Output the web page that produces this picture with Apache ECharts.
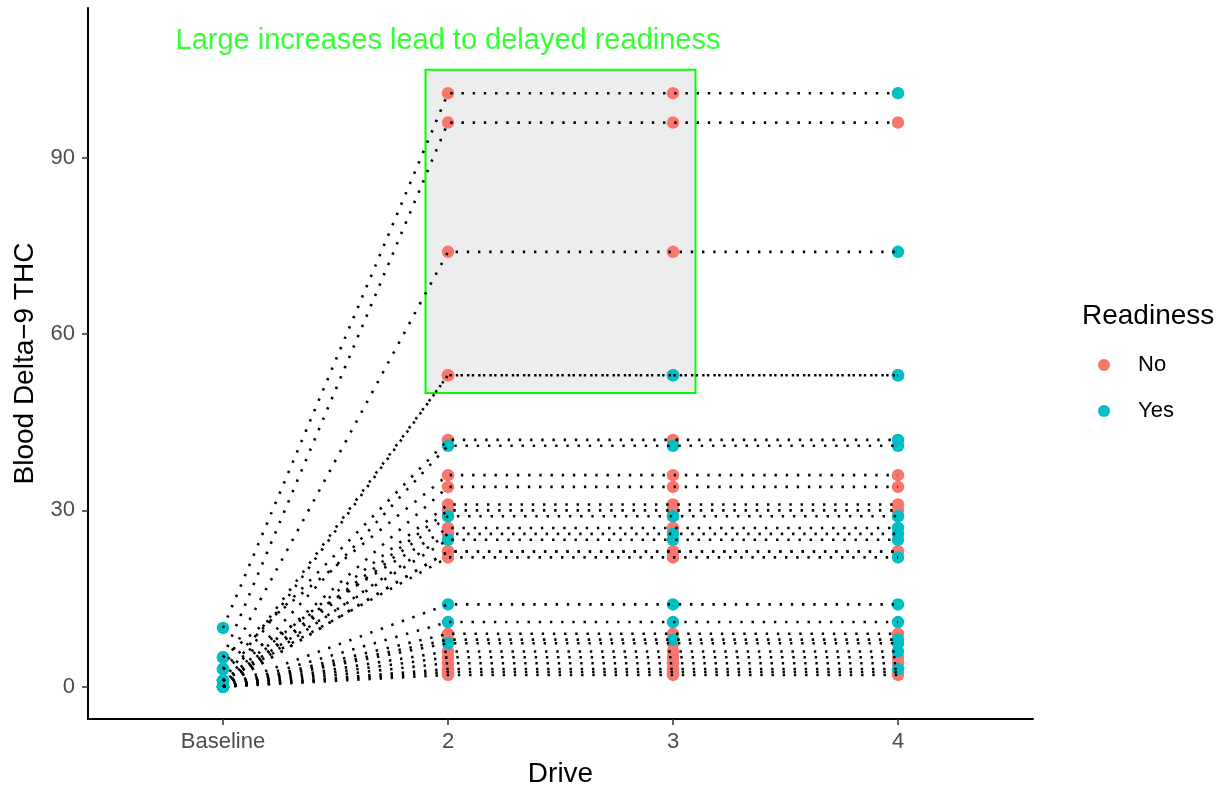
<!DOCTYPE html>
<html>
<head>
<meta charset="utf-8">
<script src="https://cdn.jsdelivr.net/npm/echarts@6/dist/echarts.min.js"></script>
<style>
html,body{margin:0;padding:0;background:#fff;}
#chart{width:1225px;height:793px;}
</style>
</head>
<body>
<div id="chart"></div>
<script>
// ---- data ----
const categories = ['Baseline', '2', '3', '4'];
// one entry per subject
const baselineValue = [10, 5, 3, 1, 0, 3, 0, 5, 0, 1, 0, 0, 3, 0, 1, 0, 0, 1, 0, 0, 0, 0, 0, 0, 0, 0, 0, 0, 0];
const driveValue    = [101, 96, 74, 53, 53, 42, 41, 36, 34, 31, 30, 29, 27, 26, 25, 23, 23, 22, 14, 11, 9, 8, 7.4, 6, 5, 4, 3, 2.5, 2];
const readyBaseline = ['Yes','Yes','Yes','Yes','Yes','Yes','Yes','Yes','Yes','Yes','Yes','Yes','Yes','Yes','Yes','Yes','Yes','Yes','Yes','Yes','Yes','Yes','Yes','Yes','Yes','Yes','Yes','Yes','Yes'];
const readyDrive2   = ['No','No','No','No','No','No','Yes','No','No','No','No','Yes','No','No','Yes','No','No','No','Yes','Yes','No','No','Yes','No','No','No','No','No','No'];
const readyDrive3   = ['No','No','No','Yes','No','No','Yes','No','No','No','No','Yes','No','Yes','Yes','No','No','No','Yes','Yes','No','Yes','No','No','No','No','No','No','No'];
const readyDrive4   = ['Yes','No','Yes','Yes','Yes','Yes','Yes','No','No','No','No','Yes','Yes','Yes','Yes','No','No','Yes','Yes','Yes','No','Yes','Yes','Yes','No','No','Yes','No','No'];
const yTicks = [0, 30, 60, 90];
const readinessLevels = ['No', 'Yes'];
const readinessColors = ['#F8766D', '#00BFC4'];
// annotation
const noteText = 'Large increases lead to delayed readiness';
const notePos = [2, 110];
const boxX = [1.9, 3.1];
const boxY = [50, 105];

// ---- build ----
const font = 'Liberation Sans, Arial, Helvetica, sans-serif';
const xPos = categories.map((c, i) => i + 1);
const readyByDrive = [readyBaseline, readyDrive2, readyDrive3, readyDrive4];

const lineSeries = baselineValue.map((b, i) => ({
  type: 'line',
  data: [[xPos[0], b], [xPos[1], driveValue[i]], [xPos[2], driveValue[i]], [xPos[3], driveValue[i]]],
  symbol: 'none',
  silent: true,
  z: 3,
  lineStyle: { color: '#000', width: 2.6, type: [2.4, 8.8], cap: 'butt' }
}));

const pointsFor = (level) => {
  const out = [];
  baselineValue.forEach((b, i) => {
    const vals = [b, driveValue[i], driveValue[i], driveValue[i]];
    for (let d = 0; d < 4; d++) {
      if (readyByDrive[d][i] === level) out.push([xPos[d], vals[d]]);
    }
  });
  return out;
};

const scatterSeries = readinessLevels.map((lvl, k) => {
  const s = {
    type: 'scatter',
    name: lvl,
    data: pointsFor(lvl),
    symbol: 'circle',
    symbolSize: 12.5,
    z: 2,
    itemStyle: { color: readinessColors[k], opacity: 1 }
  };
  if (k === 0) {
    s.markArea = {
      silent: true,
      z: 1,
      itemStyle: { color: '#EDEDED', borderColor: '#00FF00', borderWidth: 2 },
      data: [[{ coord: [boxX[0], boxY[0]] }, { coord: [boxX[1], boxY[1]] }]]
    };
  }
  return s;
});

const noteSeries = {
  type: 'scatter',
  name: 'note',
  data: [notePos],
  symbolSize: 0,
  silent: true,
  z: 4,
  label: {
    show: true, position: 'inside', formatter: noteText, offset: [0, 1],
    color: '#00FF00', fontSize: 29, fontFamily: font
  }
};

const chart = echarts.init(document.getElementById('chart'), null, { renderer: 'canvas' });
chart.setOption({
  animation: false,
  backgroundColor: '#fff',
  textStyle: { fontFamily: font },
  grid: { left: 88, right: 192, top: 8, bottom: 65 },
  title: {
    text: 'Readiness', left: 1077, top: 297,
    textStyle: { fontSize: 28, fontWeight: 'normal', color: '#000', fontFamily: font }
  },
  legend: {
    data: readinessLevels,
    orient: 'vertical',
    left: 1093, top: 349,
    itemWidth: 12, itemHeight: 12,
    itemGap: 24,
    icon: 'circle',
    textStyle: { fontSize: 22, color: '#000', fontFamily: font, padding: [0, 0, 0, 23] }
  },
  xAxis: {
    type: 'value', min: 0.4, max: 4.6,
    name: 'Drive', nameLocation: 'middle', nameGap: 41,
    nameTextStyle: { fontSize: 28, color: '#000', fontFamily: font },
    axisLine: { show: true, onZero: false, lineStyle: { color: '#000', width: 2 } },
    axisTick: { show: true, length: 6, customValues: xPos, lineStyle: { color: '#333', width: 1.5 } },
    axisLabel: {
      customValues: xPos, margin: 12, fontSize: 22, color: '#4D4D4D', fontFamily: font,
      formatter: (v) => categories[Math.round(v) - 1] || ''
    },
    splitLine: { show: false }
  },
  yAxis: {
    type: 'value', min: -5.5, max: 115.5,
    name: 'Blood Delta\u22129 THC', nameLocation: 'middle', nameGap: 47,
    nameTextStyle: { fontSize: 28, color: '#000', fontFamily: font },
    axisLine: { show: true, onZero: false, lineStyle: { color: '#000', width: 2 } },
    axisTick: { show: true, length: 6, customValues: yTicks, lineStyle: { color: '#333', width: 1.5 } },
    axisLabel: { customValues: yTicks, margin: 13, fontSize: 22, color: '#4D4D4D', fontFamily: font },
    splitLine: { show: false }
  },
  series: [...scatterSeries, ...lineSeries, noteSeries]
});
</script>
</body>
</html>
